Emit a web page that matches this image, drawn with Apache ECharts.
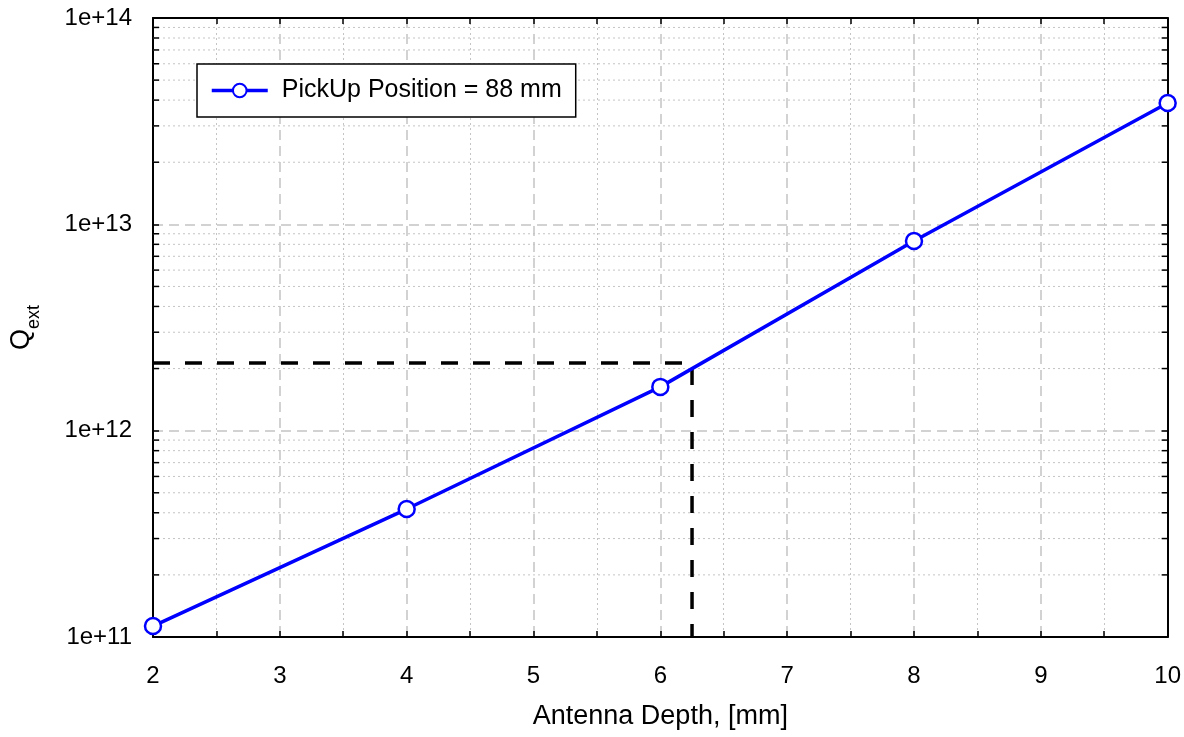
<!DOCTYPE html>
<html>
<head>
<meta charset="utf-8">
<title>Qext vs Antenna Depth</title>
<script src="https://cdn.jsdelivr.net/npm/echarts@6/dist/echarts.min.js"></script>
<style>
  html, body { margin: 0; padding: 0; background: #fff; }
  #chart { width: 1184px; height: 737px; }
</style>
</head>
<body>
<div id="chart"></div>
<script>
// data
const depth = [2, 4, 6, 8, 10]
const qext = [1.13e11, 4.17e11, 1.63e12, 8.3e12, 3.87e13]
const seriesName = 'PickUp Position = 88 mm'

// dashed marker line (operating point)
const refX = [2, 6.25, 6.25]
const refY = [2.13e12, 2.13e12, 1e11]

// axes
const xMin = 2
const xMax = 10
const yMin = 1e11
const yMax = 1e14
const decades = [1e11, 1e12, 1e13]
const minorSteps = [2, 3, 4, 5, 6, 7, 8, 9]

const minorY = []
decades.forEach(d => minorSteps.forEach(m => minorY.push(d * m)))

const font = 'Arial, "Liberation Sans", sans-serif'
const gridGray = '#c4c4c4'

const chart = echarts.init(document.getElementById('chart'))

function xAxisBase(pos) {
  return {
    type: 'value',
    position: pos,
    min: xMin,
    max: xMax,
    interval: 1,
    axisLine: { show: true, onZero: false, lineStyle: { color: '#000', width: 2 } },
    axisTick: { show: true, inside: true, length: 6, lineStyle: { color: '#000', width: 1.5 } },
    minorTick: { show: true, inside: true, splitNumber: 2, length: 6, lineStyle: { color: '#000', width: 1.5 } },
    splitLine: { show: false },
    minorSplitLine: { show: false },
    axisLabel: { show: false }
  }
}

function yAxisBase(pos) {
  return {
    type: 'log',
    logBase: 10,
    position: pos,
    min: yMin,
    max: yMax,
    axisLine: { show: true, onZero: false, lineStyle: { color: '#000', width: 2 } },
    axisTick: { show: true, inside: true, length: 6, lineStyle: { color: '#000', width: 1.5 } },
    splitLine: { show: false },
    axisLabel: { show: false }
  }
}

const xBottom = xAxisBase('bottom')
xBottom.splitLine = { show: true, lineStyle: { color: gridGray, width: 1.5, type: [10, 6] } }
xBottom.minorSplitLine = { show: true, lineStyle: { color: gridGray, width: 1, type: [2, 3] } }
xBottom.axisLabel = { show: true, margin: 27, fontSize: 24, color: '#000', fontFamily: font }
xBottom.name = 'Antenna Depth, [mm]'
xBottom.nameLocation = 'middle'
xBottom.nameGap = 66
xBottom.nameTextStyle = { fontSize: 27, color: '#000', fontFamily: font }
const xTop = xAxisBase('top')

const yLeft = yAxisBase('left')
yLeft.splitLine = { show: true, lineStyle: { color: gridGray, width: 1.5, type: [10, 6] } }
yLeft.axisLabel = {
  show: true, margin: 21, fontSize: 24, color: '#000', fontFamily: font,
  formatter: v => '1e+' + Math.round(Math.log10(v))
}
yLeft.name = '{q|Q}{s|ext}'
yLeft.nameLocation = 'middle'
yLeft.nameGap = 118
yLeft.nameRotate = 90
yLeft.nameTextStyle = {
  color: '#000', fontFamily: font,
  rich: {
    q: { fontSize: 27, fontFamily: font, color: '#000', lineHeight: 34, verticalAlign: 'bottom' },
    s: { fontSize: 18, fontFamily: font, color: '#000', lineHeight: 34, verticalAlign: 'bottom', padding: [0, 0, -8, 0] }
  }
}
const yRight = yAxisBase('right')

chart.setOption({
  animation: false,
  backgroundColor: '#fff',
  grid: { left: 153, right: 15, top: 18, bottom: 100, containLabel: false },
  legend: {
    data: [seriesName],
    left: 197,
    top: 64,
    orient: 'vertical',
    padding: [14, 14, 14, 13],
    itemWidth: 56,
    itemHeight: 17,
    borderColor: '#000',
    borderWidth: 1.5,
    backgroundColor: '#fff',
    borderRadius: 0,
    lineStyle: { width: 3.5 },
    textStyle: { fontSize: 25, color: '#000', fontFamily: font, padding: [0, 0, 0, 9] }
  },
  xAxis: [xBottom, xTop],
  yAxis: [yLeft, yRight],
  series: [
    {
      // minor log grid lines and ticks at 2..9 of each decade
      type: 'custom',
      silent: true,
      z: 1,
      xAxisIndex: 0,
      yAxisIndex: 0,
      data: minorY.map(v => [xMin, v]),
      renderItem: (params, api) => {
        const v = api.value(1)
        const a = api.coord([xMin, v])
        const b = api.coord([xMax, v])
        return {
          type: 'group',
          children: [
            { type: 'line', shape: { x1: a[0], y1: a[1], x2: b[0], y2: b[1] },
              style: { stroke: gridGray, lineWidth: 1, lineDash: [2, 3] } },
            { type: 'line', shape: { x1: a[0], y1: a[1], x2: a[0] + 6, y2: a[1] },
              style: { stroke: '#000', lineWidth: 1.5 } },
            { type: 'line', shape: { x1: b[0] - 6, y1: b[1], x2: b[0], y2: b[1] },
              style: { stroke: '#000', lineWidth: 1.5 } }
          ]
        }
      }
    },
    {
      name: 'ref',
      type: 'line',
      z: 3,
      symbol: 'none',
      silent: true,
      data: refX.map((x, i) => [x, refY[i]]),
      lineStyle: { color: '#000', width: 3.5, type: [17, 15] }
    },
    {
      name: seriesName,
      type: 'line',
      z: 4,
      data: depth.map((x, i) => [x, qext[i]]),
      symbol: 'circle',
      symbolSize: 16,
      itemStyle: { color: '#fff', borderColor: '#0000ff', borderWidth: 2.5 },
      lineStyle: { color: '#0000ff', width: 3.5 }
    }
  ]
})
</script>
</body>
</html>
